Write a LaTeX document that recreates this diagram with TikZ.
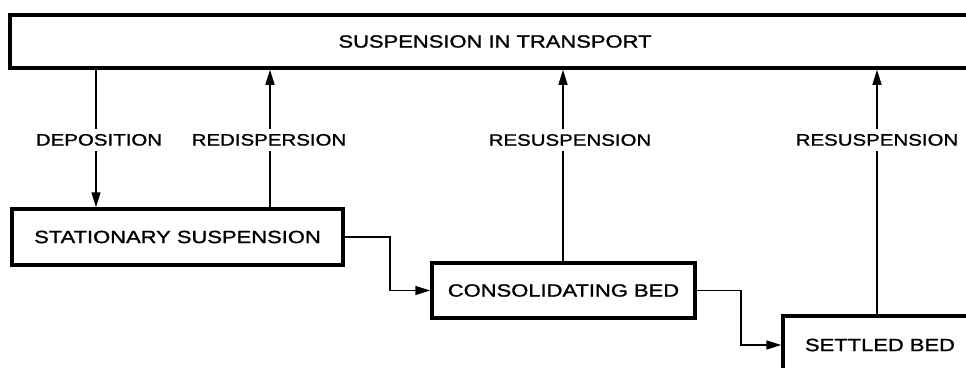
\documentclass[tikz,border=0pt]{standalone}
\usepackage{fontspec}
\setmainfont{Liberation Sans}[FakeStretch=1.24, FakeBold=1.2]
\usetikzlibrary{arrows.meta}

\begin{document}
\begin{tikzpicture}[
  x=1pt, y=-1pt,
  >={Triangle[length=15pt,width=9pt]},
  box/.style={draw, line width=3.5pt, align=center, inner sep=0pt, font=\fontsize{17.7}{20}\selectfont},
  lbl/.style={fill=white, inner xsep=2pt, inner ysep=5pt, font=\fontsize{16.5}{19}\selectfont},
  arr/.style={->, line width=1.5pt}
]
\clip (0,0) rectangle (966,367);

\node[box, minimum width=970pt, minimum height=53pt] (trans) at (495,41.5) {SUSPENSION IN TRANSPORT};
\node[box, minimum width=331pt, minimum height=56pt] (stat) at (177.5,237) {STATIONARY SUSPENSION};
\node[box, minimum width=263pt, minimum height=55pt] (cons) at (563.5,290.5) {CONSOLIDATING BED};
\node[box, minimum width=194pt, minimum height=58pt] (settled) at (880,345) {SETTLED BED};

% x of the vertical arrows
\coordinate (depx) at (96,0);
\coordinate (redx) at (270,0);
\coordinate (res1x) at (563,0);
\coordinate (res2x) at (877,0);

\draw[arr] (depx |- trans.south) -- (depx |- stat.north) node[lbl, pos=0.51, xshift=3pt] (dep) {DEPOSITION};
\draw[arr] (redx |- stat.north) -- (redx |- trans.south) node[lbl, pos=0.49, xshift=-1pt] (red) {REDISPERSION};
\draw[arr] (res1x |- cons.north) -- (res1x |- trans.south) node[lbl, pos=0.633, xshift=7pt] (res1) {RESUSPENSION};
\draw[arr] (res2x |- settled.north) -- (res2x |- trans.south) node[lbl, pos=0.713] (res2) {RESUSPENSION};

\draw[arr] (stat.east) -- ++(45,0) |- (cons.west);
\draw[arr] (cons.east) -- ++(44,0) |- (settled.west);

\end{tikzpicture}
\end{document}
